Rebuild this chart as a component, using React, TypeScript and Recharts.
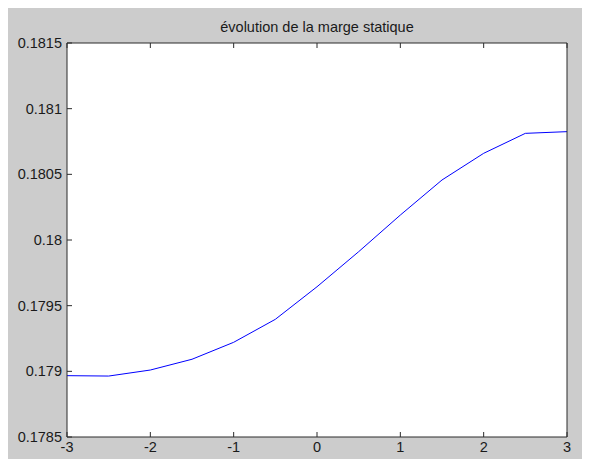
import { LineChart, Line, XAxis, YAxis } from 'recharts';

const titre = 'évolution de la marge statique';

const braquage = [-3, -2.5, -2, -1.5, -1, -0.5, 0, 0.5, 1, 1.5, 2, 2.5, 3];
const margeStatique = [
  0.178967, 0.178964, 0.17901, 0.179092, 0.179221, 0.179396, 0.179644,
  0.179911, 0.18019, 0.180457, 0.18066, 0.180812, 0.180825,
];

const xTicks = [-3, -2, -1, 0, 1, 2, 3];
const yTicks = [0.1785, 0.179, 0.1795, 0.18, 0.1805, 0.181, 0.1815];

const data = braquage.map((x, i) => ({ x, marge: margeStatique[i] }));

const FONT = '"Liberation Sans", Arial, sans-serif';
const AXIS = '#2b2b2b';
const tickStyle = { fill: '#1a1a1a', fontSize: 14.5, fontFamily: FONT };
const blank = () => '';

export default function App() {
  return (
    <div
      style={{
        position: 'relative',
        marginLeft: -1,
        width: 583,
        height: 451,
        background: '#cccccc',
      }}
    >
      <div
        style={{
          position: 'absolute',
          left: 60,
          width: 500,
          top: 11,
          textAlign: 'center',
          fontFamily: FONT,
          fontSize: 14.5,
          color: '#1a1a1a',
          lineHeight: '16px',
        }}
      >
        {titre}
      </div>
      <LineChart
        width={583}
        height={451}
        data={data}
        margin={{ top: 0, right: 0, bottom: 0, left: 0 }}
      >
        <rect x={60} y={35} width={500} height={394} fill="#ffffff" />
        <XAxis
          xAxisId="bas"
          dataKey="x"
          type="number"
          domain={[-3, 3]}
          ticks={xTicks}
          height={22}
          tickSize={-5}
          tickMargin={10}
          stroke={AXIS}
          tick={tickStyle}
          allowDataOverflow
        />
        <XAxis
          xAxisId="haut"
          orientation="top"
          dataKey="x"
          type="number"
          domain={[-3, 3]}
          ticks={xTicks}
          height={35}
          tickSize={-5}
          tickFormatter={blank}
          stroke={AXIS}
        />
        <YAxis
          yAxisId="gauche"
          type="number"
          domain={[0.1785, 0.1815]}
          ticks={yTicks}
          width={60}
          tickSize={-5}
          tickMargin={10}
          stroke={AXIS}
          tick={tickStyle}
          allowDataOverflow
        />
        <YAxis
          yAxisId="droite"
          orientation="right"
          type="number"
          domain={[0.1785, 0.1815]}
          ticks={yTicks}
          width={23}
          tickSize={-5}
          tickFormatter={blank}
          stroke={AXIS}
        />
        <Line
          xAxisId="bas"
          yAxisId="gauche"
          type="linear"
          dataKey="marge"
          stroke="#0000ff"
          strokeWidth={1}
          dot={false}
          isAnimationActive={false}
        />
      </LineChart>
    </div>
  );
}
